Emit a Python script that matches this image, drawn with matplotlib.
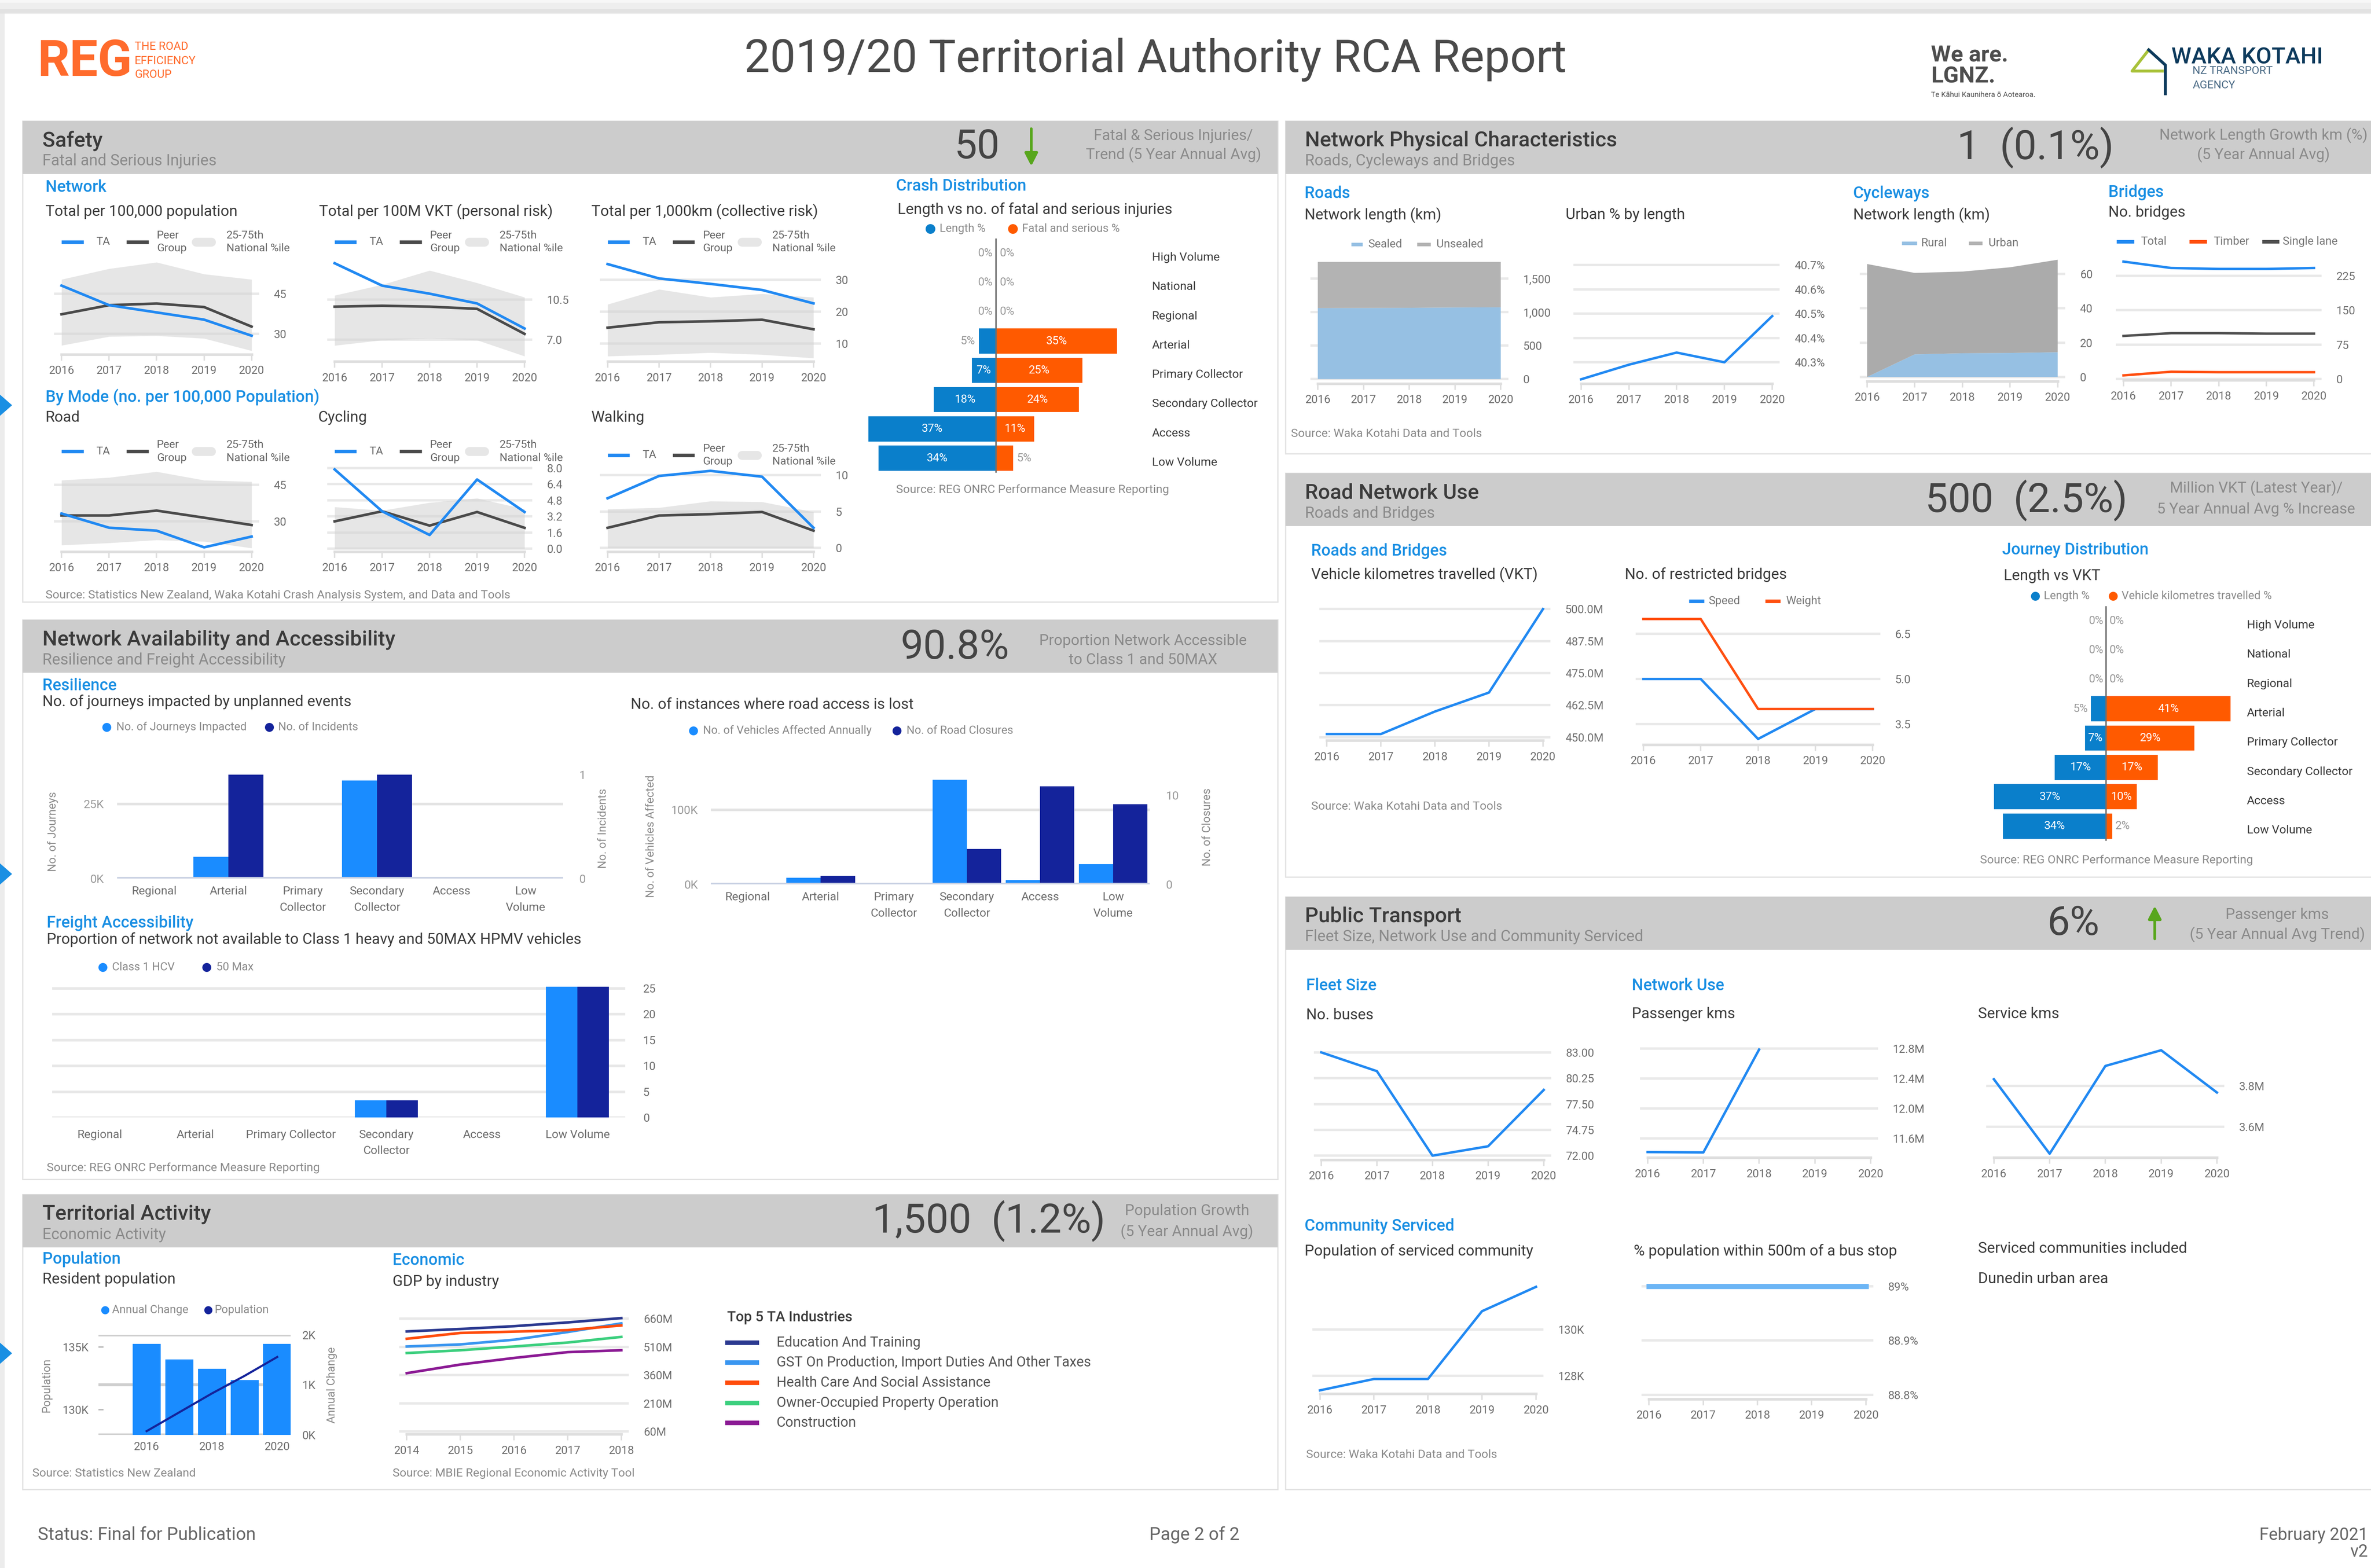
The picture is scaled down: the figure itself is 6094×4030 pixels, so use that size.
import matplotlib
matplotlib.use("Agg")
import matplotlib.pyplot as plt
import numpy as np
from matplotlib.patches import Rectangle, Polygon, FancyArrowPatch
from matplotlib.lines import Line2D

plt.rcParams["font.family"] = ["Roboto", "DejaVu Sans"]

# ---------------- data ----------------
years = [2016, 2017, 2018, 2019, 2020]

# Safety - network (TA, peer group, 25-75th national band)
pop_ta = [48.0, 40.7, 38.0, 35.3, 29.3]
pop_peer = [37.3, 40.7, 41.3, 40.0, 32.7]
pop_lo = [25.7, 29.0, 29.3, 28.3, 23.7]
pop_hi = [50.3, 54.3, 56.7, 52.3, 50.3]
vkt_ta = [13.66, 11.71, 11.01, 10.16, 7.98]
vkt_peer = [9.88, 9.96, 9.88, 9.69, 7.51]
vkt_lo = [6.5, 6.97, 7.12, 6.97, 5.57]
vkt_hi = [10.86, 11.79, 13.03, 11.95, 10.7]
km_ta = [34.9, 30.4, 28.7, 26.8, 22.6]
km_peer = [15.0, 16.7, 17.0, 17.5, 14.5]
km_lo = [6.1, 6.6, 7.2, 6.6, 5.5]
km_hi = [22.3, 27.0, 24.5, 25.6, 24.5]

# Safety - by mode
road_ta = [33.2, 27.4, 26.2, 19.4, 23.8]
road_peer = [32.4, 32.4, 34.4, 31.5, 28.5]
road_lo = [20.3, 21.2, 22.4, 21.8, 19.1]
road_hi = [46.8, 47.9, 50.3, 46.8, 46.2]
cyc_ta = [7.86, 3.71, 1.36, 6.86, 3.64]
cyc_peer = [2.71, 3.71, 2.29, 3.64, 2.07]
cyc_lo = [0, 0, 0, 0, 0]
cyc_hi = [4.14, 3.79, 4.57, 5.0, 3.93]
walk_ta = [6.83, 9.9, 10.6, 9.8, 2.77]
walk_peer = [2.77, 4.46, 4.65, 4.95, 2.38]
walk_lo = [0, 0, 0, 0, 0]
walk_hi = [5.35, 5.54, 6.44, 6.34, 4.95]

# ONRC distributions
onrc = ["High Volume", "National", "Regional", "Arterial", "Primary Collector",
        "Secondary Collector", "Access", "Low Volume"]
crash_len = [0, 0, 0, 5, 7, 18, 37, 34]
crash_dsi = [0, 0, 0, 35, 25, 24, 11, 5]
jd_len = [0, 0, 0, 5, 7, 17, 37, 34]
jd_vkt = [0, 0, 0, 41, 29, 17, 10, 2]

# Network physical characteristics
sealed_km = [1060, 1062, 1065, 1070, 1072]
unsealed_km = [690, 688, 685, 680, 678]
urban_pct = [40.23, 40.29, 40.34, 40.30, 40.49]
cycle_rural = [0.0, 13.2, 13.8, 14.0, 14.4]
cycle_urban = [65.8, 47.4, 47.6, 49.9, 53.9]
bridges_total = [256, 242, 240, 240, 242]
bridges_timber = [8, 16, 15, 15, 15]
bridges_single = [94, 100, 100, 99, 99]

# Road network use
vkt_million = [451.2, 451.2, 460.0, 467.4, 500.0]
restricted_speed = [5, 5, 3, 4, 4]
restricted_weight = [7, 7, 4, 4, 4]

# Resilience / freight
res_cats = ["Regional", "Arterial", "Primary\nCollector", "Secondary\nCollector", "Access", "Low\nVolume"]
journeys_impacted = [0, 7300, 0, 32900, 0, 0]
incidents = [0, 1, 0, 1, 0, 0]
vehicles_affected = [0, 9100, 0, 139900, 6000, 27200]
road_closures = [0, 1, 0, 4, 11, 9]
freight_cats = ["Regional", "Arterial", "Primary Collector", "Secondary\nCollector", "Access", "Low Volume"]
class1_hcv = [0, 0, 0, 3.3, 0, 25.3]
max50 = [0, 0, 0, 3.3, 0, 25.3]

# Territorial activity
pop_change_k = [1.816, 1.51, 1.32, 1.094, 1.816]
population_k = [128.3, 129.8, 131.3, 132.7, 134.2]
gdp_years = [2014, 2015, 2016, 2017, 2018]
gdp_industries = ["Education And Training", "GST On Production, Import Duties And Other Taxes",
                  "Health Care And Social Assistance", "Owner-Occupied Property Operation", "Construction"]
gdp_edu = [592, 605, 620, 640, 663]
gdp_gst = [512, 523, 548, 589, 635]
gdp_health = [553, 584, 591, 599, 624]
gdp_owner = [477, 492, 512, 533, 563]
gdp_constr = [370, 416, 451, 482, 492]

# Public transport
buses = [83, 81, 72, 73, 79]
passenger_km_m = [11.415, 11.41, 12.79, np.nan, np.nan]
service_km_m = [3.833, 3.468, 3.898, 3.975, 3.768]
served_pop_k = [127.38, 127.87, 127.87, 130.79, 131.84]
pct_near_stop = [89.0, 89.0, 89.0, 89.0, 89.0]

# ---------------- styling ----------------
DARK = "#3b3b3b"
SUB = "#8a8a8a"
TICK = "#6e6e6e"
HEAD_BLUE = "#1a8fe3"
LINE_BLUE = "#2189f2"
PEER = "#4a4a4a"
BAND = "#e6e6e6"
GRID = "#e9e9e9"
AXIS = "#dedede"
HDR_BG = "#cccccc"
BORDER = "#e2e2e2"
BAR_LT = "#1a8cff"
BAR_DK = "#14239b"
LEN_BLUE = "#0a7fcb"
ORANGE = "#ff5a00"
SEALED = "#96c0e3"
UNSEALED = "#b3b3b3"
GREEN = "#58a61d"
REG_ORANGE = "#ff6b2c"
NAVY = "#0d3a5c"
GDP_COLORS = ["#2b3990", "#3a96f0", "#ff4c0c", "#3ccf7e", "#8b1a94"]

TITLE_FS = 9.3   # chart titles
HEAD_FS = 10.0   # blue section labels
TICK_FS = 7.0
LEG_FS = 7.0
SRC_FS = 7.3
NOTE_FS = 9.3
BIG_FS = 25

W, H = 1568.0, 1037.0  # layout grid (reference pixels / 3.886)

fig = plt.figure(figsize=(6094 / 300, 4030 / 300), dpi=300)
fig.patch.set_facecolor("white")


def fx(x):
    return x / W


def fy(y):
    return 1 - y / H


def t(x, y, s, size=TITLE_FS, color=DARK, ha="left", va="center", weight="normal", rot=0, ls=1.2):
    fig.text(fx(x), fy(y), s, fontsize=size, color=color, ha=ha, va=va,
             fontweight=weight, rotation=rot, linespacing=ls)


def box(x0, y0, x1, y1, fc, ec="none", lw=0.0, z=-5):
    fig.add_artist(Rectangle((fx(x0), fy(y1)), (x1 - x0) / W, (y1 - y0) / H,
                             transform=fig.transFigure, fc=fc, ec=ec, lw=lw, zorder=z))


def dash(x0, x1, y, color, lw=2.2, cap="butt"):
    fig.add_artist(Line2D([fx(x0), fx(x1)], [fy(y), fy(y)], color=color, lw=lw,
                          solid_capstyle=cap, transform=fig.transFigure))


def dot(x, y, color, ms=5.5):
    fig.add_artist(Line2D([fx(x)], [fy(y)], marker="o", ms=ms, color=color, mec="none",
                          transform=fig.transFigure))


def arrow(x, y0, y1):
    fig.add_artist(FancyArrowPatch((fx(x), fy(y0)), (fx(x), fy(y1)), transform=fig.transFigure,
                                   arrowstyle="-|>,head_length=0.55,head_width=0.28",
                                   mutation_scale=12, color=GREEN, lw=1.7))


def panel(x0, y0, x1, y1, title, sub):
    box(x0, y0, x1, y1, "white", BORDER, 0.8, z=-6)
    box(x0, y0, x1, y0 + 35, HDR_BG, z=-5)
    t(x0 + 13, y0 + 13, title, 13, DARK, weight="medium")
    t(x0 + 13, y0 + 26.5, sub, 9.6, SUB)


def chart_ax(x0, x1, top, bot, a, b, xr=(2016, 2020), pad=5, below=True):
    (va, ya), (vb, yb) = a, b
    k = (va - vb) / (ya - yb)
    ax = fig.add_axes([fx(x0 - pad), fy(bot), (x1 - x0 + 2 * pad) / W, (bot - top) / H])
    ax.set_ylim(va + (bot - ya) * k, va + (top - ya) * k)
    s = (xr[1] - xr[0]) / (x1 - x0)
    ax.set_xlim(xr[0] - pad * s, xr[1] + pad * s)
    ax.patch.set_alpha(0)
    for side in ("top", "left", "right"):
        ax.spines[side].set_visible(False)
    ax.spines["bottom"].set_bounds(*xr)
    ax.spines["bottom"].set_color(AXIS)
    ax.spines["bottom"].set_linewidth(1.6)
    ax.yaxis.tick_right()
    ax.tick_params(axis="y", length=0, pad=9, labelsize=TICK_FS, labelcolor=TICK)
    ax.tick_params(axis="x", length=3.8, width=0.9, color=AXIS, pad=3.0, labelsize=TICK_FS, labelcolor=TICK)
    ax.grid(axis="y", color=GRID, lw=1.5)
    ax.set_axisbelow(True if below else "line")
    xs = list(range(xr[0], xr[1] + 1))
    ax.set_xticks(xs, [str(v) for v in xs])
    return ax


def safety_chart(x0, x1, top, bot, a, b, ta, peer, lo, hi, ticks, labels):
    ax = chart_ax(x0, x1, top, bot, a, b, below=False)
    ax.grid(axis="y", color="#d0d0d0", alpha=0.45, lw=1.5)
    ax.fill_between(years, lo, hi, color=BAND, lw=0, zorder=1)
    ax.plot(years, peer, color=PEER, lw=1.6, zorder=3)
    ax.plot(years, ta, color=LINE_BLUE, lw=1.6, zorder=4)
    ax.set_yticks(ticks, labels)
    return ax


def safety_legend(x0, y):
    dash(x0, x0 + 14.5, y, LINE_BLUE)
    t(x0 + 23, y, "TA", 6.8, "#666666")
    dash(x0 + 43, x0 + 57.5, y, PEER)
    t(x0 + 63, y, "Peer\nGroup", 6.8, "#666666", ls=1.3)
    dash(x0 + 89, x0 + 99, y, BAND, lw=5.5, cap="round")
    t(x0 + 109, y, "25-75th\nNational %ile", 6.8, "#666666", ls=1.3)


def diverge(cx, sc, x0, x1, row0, gap, left, right, labx):
    n = len(onrc)
    top, bot = row0 - gap / 2, row0 + (n - 0.5) * gap
    ax = fig.add_axes([fx(x0), fy(bot), (x1 - x0) / W, (bot - top) / H])
    ax.set_xlim((x0 - cx) / sc, (x1 - cx) / sc)
    ax.set_ylim(n - 0.5, -0.5)
    ax.axis("off")
    rows = np.arange(n)
    ax.barh(rows, [-v for v in left], height=0.86, color=LEN_BLUE)
    ax.barh(rows, right, height=0.86, color=ORANGE)
    ax.axvline(0, color="#6f6f6f", lw=0.9)
    for i in rows:
        l, r = left[i], right[i]
        if l >= 7:
            ax.text(-l / 2, i, f"{l}%", color="white", ha="center", va="center", fontsize=7)
        else:
            ax.text(-l - 1, i, f"{l}%", color="#9a9a9a", ha="right", va="center", fontsize=7)
        if r >= 7:
            ax.text(r / 2, i, f"{r}%", color="white", ha="center", va="center", fontsize=7)
        else:
            ax.text(r + 1, i, f"{r}%", color="#9a9a9a", ha="left", va="center", fontsize=7)
        ax.text((labx - cx) / sc, i + 0.15, onrc[i], ha="left", va="center", fontsize=7.3, color=DARK)
    return ax


def grouped(x0, x1, top, base, cats, lv, rv, lmax, rmax, lt, ltl, rt, rtl):
    ax = fig.add_axes([fx(x0), fy(base), (x1 - x0) / W, (base - top) / H])
    pos = np.arange(len(cats))
    ax.set_xlim(-0.5, len(cats) - 0.5)
    ax.bar(pos - 0.235, lv, width=0.47, color=BAR_LT, zorder=2)
    ax.set_ylim(0, lmax)
    ax.set_yticks(lt, ltl)
    ax.grid(axis="y", color="#e3e3e3", lw=1.6)
    ax.set_axisbelow(True)
    ax.set_xticks(pos, cats, linespacing=1.65)
    ax.tick_params(axis="x", length=0, pad=4.5, labelsize=7.2, labelcolor=TICK)
    ax.tick_params(axis="y", length=0, pad=8, labelsize=7.2, labelcolor="#9a9a9a")
    ax.patch.set_alpha(0)
    for s in ax.spines.values():
        s.set_visible(False)
    ax2 = ax.twinx()
    ax2.bar(pos + 0.235, rv, width=0.47, color=BAR_DK, zorder=2)
    ax2.set_ylim(0, rmax)
    ax2.set_yticks(rt, rtl)
    ax2.tick_params(axis="y", length=0, pad=10, labelsize=7.2, labelcolor="#9a9a9a")
    ax2.axhline(0, color="#c9d1e3", lw=2.0, zorder=3)
    for s in ax2.spines.values():
        s.set_visible(False)
    return ax, ax2


# ---------------- page frame ----------------
box(0, 0, 1568, 1.7, "#f7f7f7", z=-8)
box(0, 1.7, 1568, 6, "#eeeeee", z=-8)
box(0, 6, 1568, 9, "#e2e2e2", z=-8)
box(0, 9, 3, 1037, "#ececec", z=-8)

# header
t(25, 41, "REG", 31, REG_ORANGE, weight="bold")
t(89, 31, "THE ROAD", 7, REG_ORANGE)
t(89, 40.3, "EFFICIENCY", 7, REG_ORANGE)
t(89, 49.5, "GROUP", 7, REG_ORANGE)
t(764, 39.5, "2019/20 Territorial Authority RCA Report", 28.2, "#4a4a4a", ha="center")
t(1277, 36.5, "We are.", 14, "#4d4d4d", weight="bold")
t(1277, 50.8, "LGNZ.", 14, "#4d4d4d", weight="bold")
t(1277, 62.7, "Te Kāhui Kaunihera ō Aotearoa.", 4.6, "#555555")
fig.add_artist(Line2D([fx(1421), fx(1410), fx(1430)], [fy(33), fy(47), fy(47)], color="#a9c23a",
                      lw=1.8, transform=fig.transFigure))
fig.add_artist(Line2D([fx(1421), fx(1432), fx(1432)], [fy(33), fy(43), fy(62)], color=NAVY,
                      lw=1.8, transform=fig.transFigure))
t(1436, 38, "WAKA KOTAHI", 14, NAVY, weight="medium")
t(1450, 47, "NZ TRANSPORT", 6.8, "#4a6a85")
t(1450, 56.5, "AGENCY", 6.8, "#4a6a85")

# ---------------- Safety ----------------
panel(15, 80, 845, 398, "Safety", "Fatal and Serious Injuries")
t(646, 97.5, "50", BIG_FS, "#444444", ha="center")
arrow(682, 83, 112)
t(776, 90, "Fatal & Serious Injuries/", NOTE_FS, SUB, ha="center")
t(776, 102.5, "Trend (5 Year Annual Avg)", NOTE_FS, SUB, ha="center")
t(30, 124, "Network", HEAD_FS, HEAD_BLUE, weight="medium")
t(30, 140, "Total per 100,000 population")
t(211, 140, "Total per 100M VKT (personal risk)")
t(391, 140, "Total per 1,000km (collective risk)")
for lx in (40.7, 221.3, 401.8):
    safety_legend(lx, 160)

safety_chart(40.7, 166.4, 171.8, 234.4, (45, 194.2), (30, 220.8),
             pop_ta, pop_peer, pop_lo, pop_hi, [30, 45], ["30", "45"])
safety_chart(221.3, 346.9, 171.8, 239.1, (10.5, 198.1), (7.0, 224.7),
             vkt_ta, vkt_peer, vkt_lo, vkt_hi, [7.0, 10.5], ["7.0", "10.5"])
safety_chart(401.8, 538.0, 171.8, 239.1, (30, 185.0), (10, 227.3),
             km_ta, km_peer, km_lo, km_hi, [10, 20, 30], ["10", "20", "30"])

t(30, 262.4, "By Mode (no. per 100,000 Population)", HEAD_FS, HEAD_BLUE, weight="medium")
t(30, 276.2, "Road")
t(210.4, 276.2, "Cycling")
t(391, 276.2, "Walking")
safety_legend(40.7, 298.6)
safety_legend(221.3, 298.6)
safety_legend(401.8, 301)
safety_chart(40.7, 166.4, 309, 364.8, (45, 320.5), (30, 344.8),
             road_ta, road_peer, road_lo, road_hi, [30, 45], ["30", "45"])
safety_chart(221.3, 346.9, 305, 364.8, (8.0, 309.5), (0.0, 362.9),
             cyc_ta, cyc_peer, cyc_lo, cyc_hi, [0, 1.6, 3.2, 4.8, 6.4, 8.0],
             ["0.0", "1.6", "3.2", "4.8", "6.4", "8.0"])
safety_chart(401.8, 538.0, 305, 364.8, (10, 314.3), (0, 362.4),
             walk_ta, walk_peer, walk_lo, walk_hi, [0, 5, 10], ["0", "5", "10"])
t(30, 393.8, "Source: Statistics New Zealand, Waka Kotahi Crash Analysis System, and Data and Tools", SRC_FS, SUB)

t(592.5, 123.1, "Crash Distribution", HEAD_FS, HEAD_BLUE, weight="medium")
t(593.7, 138.6, "Length vs no. of fatal and serious injuries")
dot(615.3, 151.3, LEN_BLUE, 6)
t(621.5, 151.3, "Length %", LEG_FS, SUB)
dot(669.7, 151.3, ORANGE, 6)
t(676, 151.3, "Fatal and serious %", LEG_FS, SUB)
diverge(658.7, 2.283, 570, 760, 167.5, 19.36, crash_len, crash_dsi, 761.8)
t(592.5, 324, "Source: REG ONRC Performance Measure Reporting", SRC_FS, SUB)

# ---------------- Network Physical Characteristics ----------------
panel(850, 80, 1580, 300, "Network Physical Characteristics", "Roads, Cycleways and Bridges")
t(1346, 97.5, "1  (0.1%)", BIG_FS, "#444444", ha="center")
t(1497, 89.5, "Network Length Growth km (%)", NOTE_FS, SUB, ha="center")
t(1497, 102.5, "(5 Year Annual Avg)", NOTE_FS, SUB, ha="center")
t(862.8, 127.9, "Roads", HEAD_FS, HEAD_BLUE, weight="medium")
t(862.8, 142.2, "Network length (km)")
t(1035.5, 142.2, "Urban % by length")
t(1225.6, 127.9, "Cycleways", HEAD_FS, HEAD_BLUE, weight="medium")
t(1225.6, 142.2, "Network length (km)")
t(1394.2, 127.2, "Bridges", HEAD_FS, HEAD_BLUE, weight="medium")
t(1394.2, 140.5, "No. bridges")

ax = chart_ax(871.5, 992.5, 168, 253.6, (1500, 184.3), (0, 250.7))
ax.stackplot(years, sealed_km, unsealed_km, colors=[SEALED, UNSEALED], lw=0)
ax.set_yticks([0, 500, 1000, 1500], ["0", "500", "1,000", "1,500"])
dash(893.5, 901, 161.5, SEALED)
t(905, 161.5, "Sealed", LEG_FS, "#777777")
dash(937, 946, 161.5, UNSEALED)
t(950, 161.5, "Unsealed", LEG_FS, "#777777")

ax = chart_ax(1045.6, 1172, 168, 253.6, (40.7, 175.3), (40.3, 239.6))
ax.plot(years, urban_pct, color=LINE_BLUE, lw=1.5)
ax.set_yticks([40.3, 40.4, 40.5, 40.6, 40.7], ["40.3%", "40.4%", "40.5%", "40.6%", "40.7%"])

ax = chart_ax(1234.8, 1360.8, 168, 252.1, (60, 181.2), (0, 249.3))
ax.stackplot(years, cycle_rural, cycle_urban, colors=[SEALED, "#ababab"], lw=0)
ax.set_yticks([0, 20, 40, 60], ["0", "20", "40", "60"])
dash(1257.7, 1267.8, 160.7, SEALED)
t(1270.5, 160.7, "Rural", LEG_FS, "#777777")
dash(1302, 1311, 160.7, UNSEALED)
t(1315, 160.7, "Urban", LEG_FS, "#777777")

ax = chart_ax(1404.3, 1530.3, 168, 251.4, (225, 182.4), (0, 250.7))
ax.plot(years, bridges_total, color=LINE_BLUE, lw=1.5)
ax.plot(years, bridges_timber, color="#ff4f10", lw=1.5)
ax.plot(years, bridges_single, color="#505050", lw=1.5)
ax.set_yticks([0, 75, 150, 225], ["0", "75", "150", "225"])
dash(1399.7, 1411.2, 159.7, LINE_BLUE)
t(1415.8, 159.7, "Total", LEG_FS, "#777777")
dash(1447.8, 1459.3, 159.7, "#ff4f10")
t(1463.9, 159.7, "Timber", LEG_FS, "#777777")
dash(1495.9, 1507.4, 159.7, "#505050")
t(1509.7, 159.7, "Single lane", LEG_FS, "#777777")
t(853.7, 287, "Source: Waka Kotahi Data and Tools", SRC_FS, SUB)

# ---------------- Road Network Use ----------------
panel(850, 313, 1580, 580, "Road Network Use", "Roads and Bridges")
t(1340, 331, "500  (2.5%)", BIG_FS, "#444444", ha="center")
t(1492, 323, "Million VKT (Latest Year)/", NOTE_FS, SUB, ha="center")
t(1492, 337, "5 Year Annual Avg % Increase", NOTE_FS, SUB, ha="center")
t(867, 364.5, "Roads and Bridges", HEAD_FS, HEAD_BLUE, weight="medium")
t(867, 380.1, "Vehicle kilometres travelled (VKT)")
t(1074.5, 380.1, "No. of restricted bridges")
ax = chart_ax(877.5, 1020.4, 398, 489.8, (500, 402.8), (450, 487.5))
ax.plot(years, vkt_million, color=LINE_BLUE, lw=1.5)
ax.set_yticks([450, 462.5, 475, 487.5, 500], ["450.0M", "462.5M", "475.0M", "487.5M", "500.0M"])
ax = chart_ax(1086.8, 1238.5, 405, 492.4, (6.5, 419.3), (3.5, 478.8))
ax.plot(years, restricted_speed, color=LINE_BLUE, lw=1.5)
ax.plot(years, restricted_weight, color="#ff4f10", lw=1.5)
ax.set_yticks([3.5, 5.0, 6.5], ["3.5", "5.0", "6.5"])
dash(1117, 1127, 397.5, LINE_BLUE)
t(1130, 397.5, "Speed", LEG_FS, "#777777")
dash(1167.5, 1177.5, 397.5, "#ff4f10")
t(1181, 397.5, "Weight", LEG_FS, "#777777")
t(867, 533.3, "Source: Waka Kotahi Data and Tools", SRC_FS, SUB)

t(1324, 363.6, "Journey Distribution", HEAD_FS, HEAD_BLUE, weight="medium")
t(1325, 381, "Length vs VKT")
dot(1346, 394.1, LEN_BLUE, 5.5)
t(1351.5, 394.1, "Length %", LEG_FS, SUB)
dot(1397.4, 394.1, ORANGE, 5.5)
t(1403, 394.1, "Vehicle kilometres travelled %", LEG_FS, SUB)
diverge(1392.9, 2.008, 1310, 1485, 410.6, 19.39, jd_len, jd_vkt, 1485.9)
t(1309.5, 569, "Source: REG ONRC Performance Measure Reporting", SRC_FS, SUB)

# ---------------- Network Availability and Accessibility ----------------
panel(15, 410, 845, 780, "Network Availability and Accessibility", "Resilience and Freight Accessibility")
t(631.5, 428.4, "90.8%", BIG_FS, "#444444", ha="center")
t(756, 424, "Proportion Network Accessible", NOTE_FS, SUB, ha="center")
t(756, 436.5, "to Class 1 and 50MAX", NOTE_FS, SUB, ha="center")
t(28, 453.4, "Resilience", HEAD_FS, HEAD_BLUE, weight="medium")
t(28, 464.2, "No. of journeys impacted by unplanned events")
t(417.2, 466.2, "No. of instances where road access is lost")
dot(70.5, 480.9, BAR_LT)
t(77, 480.9, "No. of Journeys Impacted", LEG_FS, SUB)
dot(178, 480.9, BAR_DK)
t(184, 480.9, "No. of Incidents", LEG_FS, SUB)
dot(458.5, 483.2, BAR_LT)
t(465, 483.2, "No. of Vehicles Affected Annually", LEG_FS, SUB)
dot(593, 483.2, BAR_DK)
t(599.5, 483.2, "No. of Road Closures", LEG_FS, SUB)
grouped(77.4, 372.2, 512.2, 581.1, res_cats, journeys_impacted, incidents, 34870, 1,
        [0, 25000], ["0K", "25K"], [0, 1], ["0", "1"])
grouped(470.2, 760.3, 511.6, 585.0, res_cats, vehicles_affected, road_closures, 148300, 12.44,
        [0, 100000], ["0K", "100K"], [0, 10], ["0", "10"])
t(35, 550, "No. of Journeys", LEG_FS, SUB, ha="center", rot=90)
t(398.7, 548, "No. of Incidents", LEG_FS, SUB, ha="center", rot=90)
t(430.5, 553, "No. of Vehicles Affected", LEG_FS, SUB, ha="center", rot=90)
t(798.4, 547, "No. of Closures", LEG_FS, SUB, ha="center", rot=90)

t(30.8, 610.5, "Freight Accessibility", HEAD_FS, HEAD_BLUE, weight="medium")
t(30.8, 621.4, "Proportion of network not available to Class 1 heavy and 50MAX HPMV vehicles")
dot(67.8, 639.8, BAR_LT)
t(74, 639.8, "Class 1 HCV", LEG_FS, SUB)
dot(136.7, 639.8, BAR_DK)
t(143, 639.8, "50 Max", LEG_FS, SUB)
fax = fig.add_axes([fx(34.5), fy(739), (413.5 - 34.5) / W, (739 - 648) / H])
fpos = np.arange(len(freight_cats))
fax.bar(fpos - 0.165, class1_hcv, width=0.33, color=BAR_LT, zorder=2)
fax.bar(fpos + 0.165, max50, width=0.33, color=BAR_DK, zorder=2)
fax.set_xlim(-0.5, len(freight_cats) - 0.5)
fax.set_ylim(0, 26.64)
fax.yaxis.tick_right()
fax.set_yticks([0, 5, 10, 15, 20, 25], ["0", "5", "10", "15", "20", "25"])
fax.grid(axis="y", color="#e8e8e8", lw=1.6)
fax.set_axisbelow(True)
fax.set_xticks(fpos, freight_cats, linespacing=1.6)
fax.tick_params(axis="x", length=0, pad=7.5, labelsize=7.2, labelcolor=TICK)
fax.tick_params(axis="y", length=0, pad=11, labelsize=TICK_FS, labelcolor=TICK)
fax.patch.set_alpha(0)
for s in fax.spines.values():
    s.set_visible(False)
t(30.8, 772.5, "Source: REG ONRC Performance Measure Reporting", SRC_FS, SUB)

# ---------------- Territorial Activity ----------------
panel(15, 790, 845, 985, "Territorial Activity", "Economic Activity")
t(654, 807.6, "1,500  (1.2%)", BIG_FS, "#444444", ha="center")
t(785, 801, "Population Growth", NOTE_FS, SUB, ha="center")
t(785, 814.6, "(5 Year Annual Avg)", NOTE_FS, SUB, ha="center")
t(28.1, 832.9, "Population", HEAD_FS, HEAD_BLUE, weight="medium")
t(28.1, 846.2, "Resident population")
t(259.5, 833.5, "Economic", HEAD_FS, HEAD_BLUE, weight="medium")
t(259.5, 847.8, "GDP by industry")
dot(69.4, 866.4, BAR_LT, 5)
t(74, 866.4, "Annual Change", LEG_FS, SUB)
dot(137.7, 866.4, BAR_DK, 5)
t(142, 866.4, "Population", LEG_FS, SUB)

pax = fig.add_axes([fx(65.2), fy(949), (192.2 - 65.2) / W, (949 - 882.8) / H])
pax.set_xlim(2014.53, 2020.41)
pax.bar(years, pop_change_k, width=0.86, color=BAR_LT, zorder=2)
pax.set_ylim(0, 2)
pax.grid(axis="y", color="#cfcfcf", lw=1.8)
pax.set_axisbelow(True)
pax.set_xticks([2016, 2018, 2020], ["2016", "2018", "2020"])
pax.patch.set_alpha(0)
for s in pax.spines.values():
    s.set_visible(False)
lax = pax.twinx()
lax.plot(years, population_k, color=BAR_DK, lw=1.3)
lax.set_ylim(128.0, 135.96)
for s in lax.spines.values():
    s.set_visible(False)
# twinx moves the host ticks to the left, so set sides afterwards
pax.yaxis.tick_right()
pax.set_yticks([0, 1, 2], ["0K", "1K", "2K"])
pax.tick_params(axis="x", length=0, pad=4, labelsize=TICK_FS, labelcolor=TICK)
pax.tick_params(axis="y", length=0, pad=7, labelsize=TICK_FS, labelcolor=TICK)
lax.yaxis.tick_left()
lax.set_yticks([130, 135], ["130K", "135K"])
lax.tick_params(axis="y", direction="in", length=3, width=0.9, color="#bbbbbb", pad=6,
                labelsize=TICK_FS, labelcolor=TICK)
t(30.8, 916, "Population", LEG_FS, SUB, ha="center", rot=90)
t(219.5, 916, "Annual Change", LEG_FS, SUB, ha="center", rot=90)
t(21.3, 974.5, "Source: Statistics New Zealand", SRC_FS, SUB)

gax = chart_ax(269, 410.9, 868, 948.6, (660, 872.1), (60, 946.7), xr=(2014, 2018))
for vals, col in zip([gdp_edu, gdp_gst, gdp_health, gdp_owner, gdp_constr], GDP_COLORS):
    gax.plot(gdp_years, vals, color=col, lw=1.6)
gax.set_yticks([60, 210, 360, 510, 660], ["60M", "210M", "360M", "510M", "660M"])
t(259.5, 974.5, "Source: MBIE Regional Economic Activity Tool", SRC_FS, SUB)
t(480.8, 871.5, "Top 5 TA Industries", 8.8, DARK, weight="medium")
for i, (name, col) in enumerate(zip(gdp_industries, GDP_COLORS)):
    yy = 887.9 + i * 13.3
    dash(479.7, 502, yy, col, lw=2.8)
    t(513.6, yy, name, 8.6, "#555555")

# ---------------- Public Transport ----------------
panel(850, 593, 1580, 985, "Public Transport", "Fleet Size, Network Use and Community Serviced")
t(1371, 611, "6%", BIG_FS, "#444444", ha="center")
arrow(1425, 623, 597)
t(1506, 605, "Passenger kms", NOTE_FS, SUB, ha="center")
t(1506, 618, "(5 Year Annual Avg Trend)", NOTE_FS, SUB, ha="center")
t(863.7, 651.9, "Fleet Size", HEAD_FS, HEAD_BLUE, weight="medium")
t(863.7, 671.4, "No. buses")
t(1079, 651.9, "Network Use", HEAD_FS, HEAD_BLUE, weight="medium")
t(1079, 670.7, "Passenger kms")
t(1308, 670.7, "Service kms")

ax = chart_ax(873.8, 1020.9, 690, 767, (83, 696), (72, 764.3))
ax.plot(years, buses, color=LINE_BLUE, lw=1.5)
ax.set_yticks([72, 74.75, 77.5, 80.25, 83], ["72.00", "74.75", "77.50", "80.25", "83.00"])
ax = chart_ax(1089.6, 1237.1, 688, 765.6, (12.8, 693.6), (11.6, 752.8))
ax.plot(years, passenger_km_m, color=LINE_BLUE, lw=1.5)
ax.set_yticks([11.6, 12.0, 12.4, 12.8], ["11.6M", "12.0M", "12.4M", "12.8M"])
ax = chart_ax(1318.6, 1466.1, 688, 765.6, (3.8, 718.2), (3.6, 745.2))
ax.plot(years, service_km_m, color=LINE_BLUE, lw=1.5)
ax.set_yticks([3.6, 3.8], ["3.6M", "3.8M"])

t(862.8, 810.9, "Community Serviced", HEAD_FS, HEAD_BLUE, weight="medium")
t(862.8, 827.6, "Population of serviced community")
t(1080.4, 827.6, "% population within 500m of a bus stop")
t(1308, 825.8, "Serviced communities included")
t(1308, 846, "Dunedin urban area")
ax = chart_ax(872.9, 1015.8, 848, 921.8, (130, 879.3), (128, 910))
ax.plot(years, served_pop_k, color=LINE_BLUE, lw=1.5)
ax.set_yticks([128, 130], ["128K", "130K"])
ax = chart_ax(1090.5, 1234, 845, 925.2, (89.0, 850.6), (88.8, 922.4))
ax.plot(years, pct_near_stop, color="#6cb5f5", lw=3.2)
ax.set_yticks([88.8, 88.9, 89.0], ["88.8%", "88.9%", "89%"])
t(863.7, 962, "Source: Waka Kotahi Data and Tools", SRC_FS, SUB)

# left-edge page markers
for yy in (268, 578, 895):
    fig.add_artist(Polygon([[fx(0), fy(yy - 7)], [fx(8), fy(yy)], [fx(0), fy(yy + 7)]],
                           closed=True, transform=fig.transFigure, fc=HEAD_BLUE, ec="none"))

# footer
t(25, 1015, "Status: Final for Publication", 11, "#666666")
t(790, 1015, "Page 2 of 2", 11, "#666666", ha="center")
t(1566, 1015.5, "February 2021", 10.5, "#666666", ha="right")
t(1566, 1026.5, "v2", 10.5, "#666666", ha="right")

fig.savefig("out.png", dpi=300)
